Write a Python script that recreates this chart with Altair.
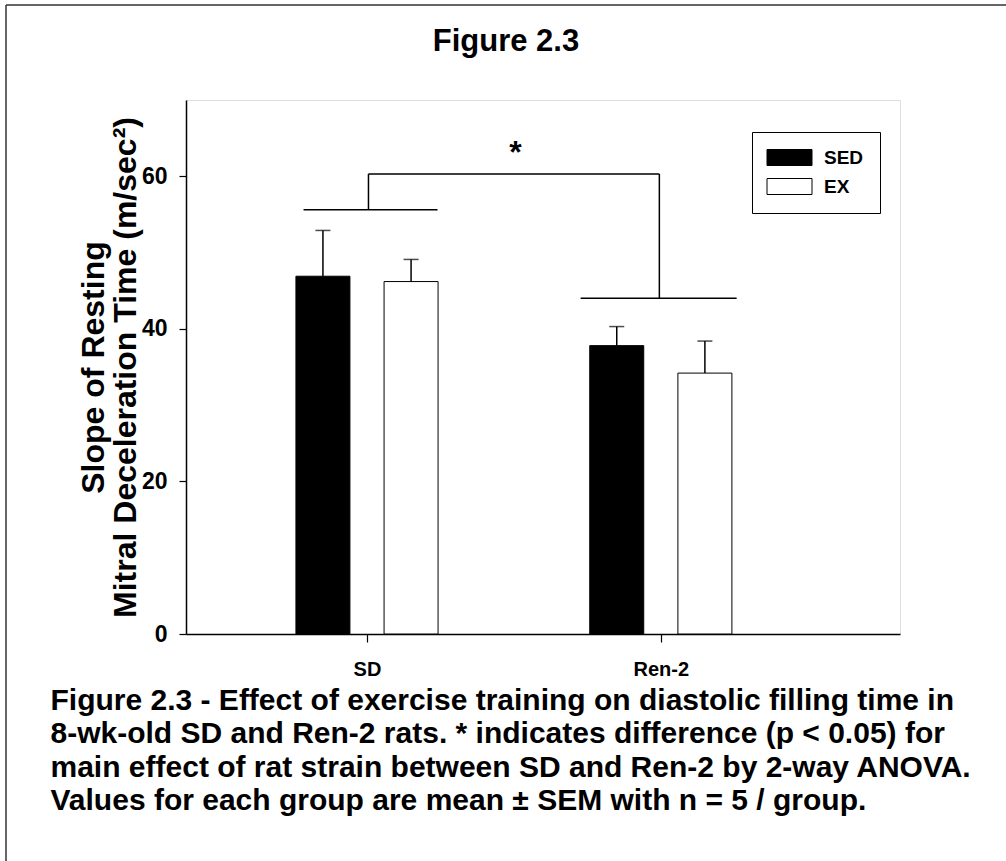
import altair as alt
import pandas as pd

# Group means and SEM (upper whisker only) for each strain / treatment
strains = ["SD", "Ren-2"]
treatments = ["SED", "EX"]
mean_sed = [46.9, 37.8]
mean_ex = [46.2, 34.2]
sem_sed = [6.0, 2.5]
sem_ex = [2.9, 4.2]

# Significance bracket (y in data units)
bracket_sd_y = 55.6
bracket_ren_y = 44.0
bracket_top_y = 60.3
star_y = 61.8

caption = [
    "Figure 2.3 - Effect of exercise training on diastolic filling time in",
    "8-wk-old SD and Ren-2 rats.  * indicates difference (p < 0.05) for",
    "main effect of rat strain between SD and Ren-2 by 2-way ANOVA.",
    "Values for each group are mean \u00b1 SEM with n = 5 / group.",
]

FONT = "Liberation Sans"
offsets = {"SED": -0.15, "EX": 0.15}

rows = []
for i, s in enumerate(strains):
    for t, m, e in (("SED", mean_sed[i], sem_sed[i]), ("EX", mean_ex[i], sem_ex[i])):
        rows.append({"strain": s, "treatment": t, "pos": i + 1 + offsets[t],
                     "mean": m, "upper": m + e})
df = pd.DataFrame(rows)

seg = pd.DataFrame([
    {"x": 1 - 0.216, "x2": 1 + 0.240, "y": bracket_sd_y, "y2": bracket_sd_y},
    {"x": 2 - 0.273, "x2": 2 + 0.258, "y": bracket_ren_y, "y2": bracket_ren_y},
    {"x": 1.005, "x2": 1.995, "y": bracket_top_y, "y2": bracket_top_y},
    {"x": 1.005, "x2": 1.005, "y": bracket_sd_y, "y2": bracket_top_y},
    {"x": 1.995, "x2": 1.995, "y": bracket_ren_y, "y2": bracket_top_y},
])
star = pd.DataFrame([{"x": 1.505, "y": star_y, "t": "*"}])

label_expr = "datum.value == 1 ? '%s' : '%s'" % (strains[0], strains[1])

x_scale = alt.Scale(domain=[0.401, 2.797], nice=False, zero=False)
y_scale = alt.Scale(domain=[0, 70], nice=False)

x_axis = alt.Axis(
    values=[1, 2], labelExpr=label_expr, grid=False,
    tickSize=8, tickWidth=1.2, tickColor="black",
    domainColor="black", domainWidth=1.5,
    labelFont=FONT, labelFontSize=20, labelFontWeight="bold", labelColor="black",
    labelPadding=17,
    title=caption, titleFont=FONT, titleFontSize=30, titleFontWeight="bold",
    titleColor="black", titleLineHeight=33.5, titleAlign="left",
    titleBaseline="alphabetic", titleX=-136, titleY=75, titleAnchor="start",
)
y_axis = alt.Axis(
    values=[0, 20, 40, 60], grid=False,
    tickSize=7, tickWidth=1.2, tickColor="black",
    domainColor="black", domainWidth=1.5,
    labelFont=FONT, labelFontSize=23, labelFontWeight="bold", labelColor="black",
    labelPadding=12,
    title=["Slope of Resting", "Mitral Deceleration Time (m/sec\u00b2)"],
    titleFont=FONT, titleFontSize=32, titleFontWeight="bold", titleColor="black",
    titleLineHeight=32, titleX=-93, titleY=267, titleBaseline="middle",
    titleAlign="center", titleAngle=270,
)

# wide flat swatch: 45 x 16 px at symbolSize 256
legend_shape = "M-2.8125,-1 L2.8125,-1 L2.8125,1 L-2.8125,1 Z"

base = alt.Chart(df)

bars = base.mark_bar(size=54, stroke="black", strokeWidth=1).encode(
    x=alt.X("pos:Q", scale=x_scale, axis=x_axis),
    y=alt.Y("mean:Q", scale=y_scale, axis=y_axis),
    fill=alt.Fill(
        "treatment:N",
        scale=alt.Scale(domain=treatments, range=["black", "white"]),
        legend=alt.Legend(
            title=None, orient="none", legendX=566, legendY=32,
            symbolType=legend_shape, symbolSize=256, symbolOffset=12,
            symbolStrokeColor="black", symbolStrokeWidth=1,
            labelFont=FONT, labelFontSize=19, labelFontWeight="bold",
            labelColor="black", labelOffset=25,
            strokeColor="black", fillColor="white", padding=16,
            rowPadding=8,
        ),
    ),
)

whisker = base.mark_rule(color="black", strokeWidth=1.5).encode(
    x="pos:Q", y="mean:Q", y2="upper:Q"
)
caps = base.mark_tick(color="black", orient="horizontal", size=15, thickness=1.5).encode(
    x="pos:Q", y="upper:Q"
)

brackets = alt.Chart(seg).mark_rule(color="black", strokeWidth=1.5).encode(
    x="x:Q", x2="x2:Q", y="y:Q", y2="y2:Q"
)
star_mark = alt.Chart(star).mark_text(
    font=FONT, fontSize=32, fontWeight="bold", baseline="alphabetic", color="black"
).encode(x="x:Q", y="y:Q", text="t:N")

# page frame lines along the top and left edges
frame_top = alt.Chart(star).mark_rule(color="#333", strokeWidth=1.5).encode(
    x=alt.value(-180), x2=alt.value(820), y=alt.value(-95), y2=alt.value(-95)
)
frame_left = alt.Chart(star).mark_rule(color="#333", strokeWidth=1.5).encode(
    x=alt.value(-180), x2=alt.value(-180), y=alt.value(-95), y2=alt.value(761)
)

chart = alt.layer(
    bars, whisker, caps, brackets, star_mark, frame_top, frame_left
).properties(
    width=714, height=534,
    padding={"left": 186, "top": 100, "right": 106, "bottom": 227},
    autosize=alt.AutoSizeParams(type="none"),
    title=alt.TitleParams(
        "Figure 2.3", font=FONT, fontSize=31, fontWeight="bold", color="black",
        anchor="middle", frame="bounds", offset=0, dy=77.75, baseline="alphabetic",
    ),
).configure_view(
    stroke="black", strokeWidth=1.2
).configure(background="white")

chart.save("out.html", embed_options={"renderer": "svg", "actions": False})
